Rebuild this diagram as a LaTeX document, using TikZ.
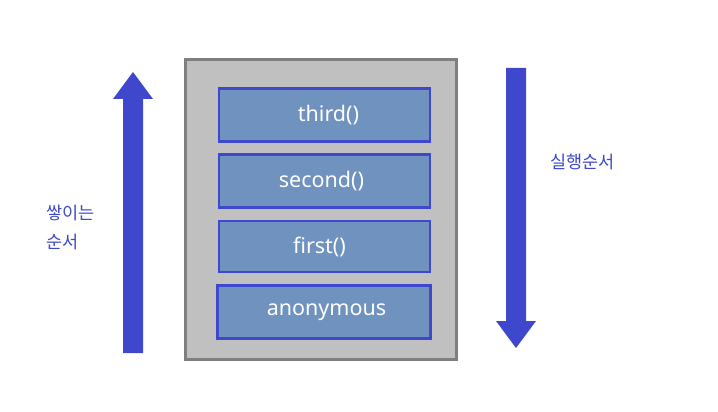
\documentclass[tikz,border=0pt]{standalone}
\usepackage{fontspec}
\setmainfont{Noto Sans}
\newfontfamily\kofont{Noto Sans CJK KR}
\definecolor{arrowblue}{HTML}{3F48CC}
\definecolor{boxfill}{HTML}{6F92BF}
\definecolor{stackgray}{HTML}{C0C0C0}
\definecolor{stackedge}{HTML}{7F7F7F}
\definecolor{labelblue}{HTML}{3F48CC}
\begin{document}
\begin{tikzpicture}[x=1pt,y=-1pt,
  frame/.style={draw=stackedge,fill=stackgray,line width=2.7pt},
  fnbox/.style={draw=arrowblue,fill=boxfill,line width=2.6pt,minimum width=211pt,minimum height=53pt,inner sep=0pt,text=white,font=\fontsize{21.5}{25}\selectfont},
  lbl/.style={text=labelblue,font=\kofont\fontsize{17.5}{21}\selectfont,inner sep=0pt}]
\useasboundingbox[fill=white] (0,0) rectangle (718,412);
% up arrow (stacking order)
\fill[arrowblue] (123,353) -- (123,99) -- (113,99) -- (133,72) -- (153,99) -- (143,99) -- (143,353) -- cycle;
% down arrow (execution order)
\fill[arrowblue] (506,68) -- (526,68) -- (526,321) -- (536,321) -- (516,348) -- (496,321) -- (506,321) -- cycle;
% stack frame
\node[frame,minimum width=271pt,minimum height=300pt,inner sep=0pt] (stack) at (321,209.5) {};
\node[fnbox] (third) at (324.5,115) {\raisebox{-2pt}{\hspace*{8pt}third()}};
\node[fnbox] (second) at (324.5,181) {\raisebox{-1.5pt}{second()\hspace*{6pt}}};
\node[fnbox,minimum height=51pt] (first) at (324.5,246.5) {\raisebox{-1.5pt}{first()\hspace*{10pt}}};
\node[fnbox,minimum width=213pt] (anon) at (324,312) {\raisebox{-1pt}{\hspace*{5pt}anonymous}};
% labels
\node[lbl,anchor=west] (exec) at (550,162) {실행순서};
\node[lbl,anchor=west] (stk1) at (46,213) {쌓이는};
\node[lbl,anchor=west] (stk2) at (46,242) {순서};
\end{tikzpicture}
\end{document}
